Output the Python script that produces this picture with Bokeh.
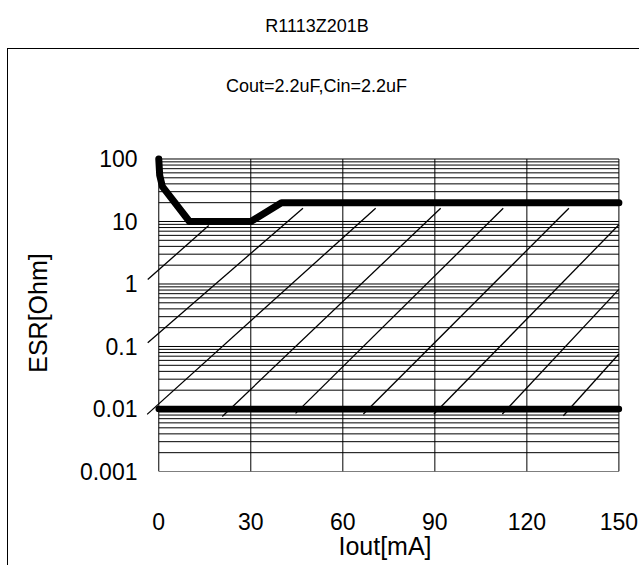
from bokeh.plotting import figure
from bokeh.models import Range1d, FixedTicker, CustomJSTickFormatter, Div, Spacer
from bokeh.layouts import column, row
from bokeh.embed import file_html
from bokeh.resources import INLINE

# ---- data -----------------------------------------------------------
title_text = "R1113Z201B"
subtitle_text = "Cout=2.2uF,Cin=2.2uF"
x_ticks = [0, 30, 60, 90, 120, 150]
y_ticks = [0.001, 0.01, 0.1, 1, 10, 100]

# boundaries of the stable region
upper_x = [0, 0.3, 1.2, 10, 30, 40, 150]
upper_y = [100, 55, 36, 10, 10, 20, 20]
lower_x = [0, 150]
lower_y = [0.01, 0.01]

# hatch lines of the stable region (start / end points)
hatch_x0 = [-3.6, -3.6, -3.8, 20.7, 44.6, 66.7, 89.7, 112.0, 131.9]
hatch_y0 = [1.18, 0.115, 0.0082, 0.0076, 0.0085, 0.0083, 0.0083, 0.0083, 0.0078]
hatch_x1 = [16.3, 47.0, 70.7, 91.9, 112.3, 133.7, 150, 150, 150]
hatch_y1 = [8.6, 16.3, 16.3, 16.3, 16.3, 16.3, 8.85, 0.82, 0.076]

FONT = "Liberation Sans"

# ---- figure ---------------------------------------------------------
W, H = 632, 466
p = figure(width=W, height=H, y_axis_type="log",
           x_range=Range1d(-4, 151.5), y_range=Range1d(0.001, 118.0),
           output_backend="svg", toolbar_location=None,
           min_border_left=138, min_border_right=17,
           min_border_top=55, min_border_bottom=94)
p.xgrid.visible = False
p.ygrid.visible = False
p.outline_line_color = None
p.background_fill_color = "white"
p.border_fill_color = "white"
p.styles = {"border-left": "1px solid black"}

# grid drawn from tick values
grid_y = [m * 10.0 ** k for k in range(-3, 2) for m in range(1, 10)] + [y_ticks[-1]]
p.segment(x0=[x_ticks[0]] * len(grid_y), x1=[x_ticks[-1]] * len(grid_y),
          y0=grid_y, y1=grid_y, line_color="black", line_width=1)
p.segment(x0=x_ticks, x1=x_ticks, y0=[y_ticks[0]] * len(x_ticks),
          y1=[y_ticks[-1]] * len(x_ticks), line_color="black", line_width=1)

# hatch
p.segment(x0=hatch_x0, y0=hatch_y0, x1=hatch_x1, y1=hatch_y1,
          line_color="black", line_width=1.3)

# boundaries
p.line(upper_x, upper_y, line_color="black", line_width=7,
       line_join="round", line_cap="round")
p.line(lower_x, lower_y, line_color="black", line_width=6.5,
       line_cap="round")

# axes
for ax in (p.xaxis, p.yaxis):
    ax.axis_line_color = None
    ax.major_tick_line_color = None
    ax.minor_tick_line_color = None
    ax.major_tick_out = 0
    ax.major_tick_in = 0
    ax.minor_tick_out = 0
    ax.minor_tick_in = 0
    ax.major_label_text_font = FONT
    ax.major_label_text_font_size = "23px"
    ax.major_label_text_color = "black"
    ax.axis_label_text_font = FONT
    ax.axis_label_text_font_size = "25px"
    ax.axis_label_text_font_style = "normal"
    ax.axis_label_text_color = "black"

p.xaxis.ticker = FixedTicker(ticks=x_ticks)
p.xaxis.axis_label = "Iout[mA]"
p.xaxis.major_label_standoff = 41
p.xaxis.axis_label_standoff = -1

p.yaxis.ticker = FixedTicker(ticks=y_ticks)
p.yaxis.formatter = CustomJSTickFormatter(code="return tick.toString();")
p.yaxis.axis_label = "ESR[Ohm]"
p.yaxis.major_label_standoff = 9
p.yaxis.axis_label_standoff = 25

# titles (outside / inside the outer box)
title_div = Div(text=title_text, width=634, height=48,
                styles={"font-family": FONT, "font-size": "18px", "color": "black",
                        "text-align": "center", "line-height": "52px",
                        "margin": "0", "padding": "0"})
subtitle_div = Div(text=subtitle_text, width=632, height=51,
                   styles={"font-family": FONT, "font-size": "18px", "color": "black",
                           "text-align": "left", "text-indent": "218px",
                           "line-height": "74px", "white-space": "nowrap",
                           "border-left": "1px solid black",
                           "border-top": "1px solid black",
                           "margin": "0", "padding": "0"})

layout = column(title_div,
                row(Spacer(width=7, height=1), column(subtitle_div, p, spacing=0), spacing=0),
                spacing=0)

open("out.html", "w").write(file_html(layout, INLINE))
